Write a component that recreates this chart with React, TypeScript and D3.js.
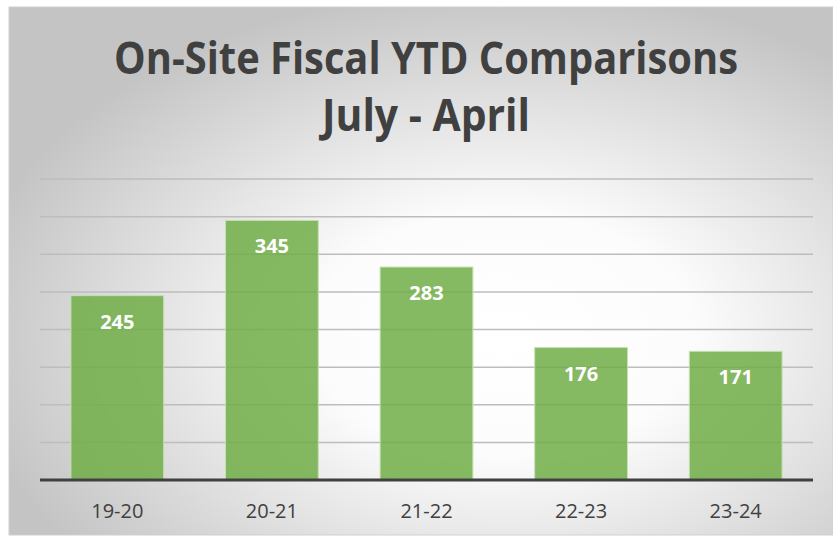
import React from "react";
import * as d3 from "d3";

const categories = ["19-20", "20-21", "21-22", "22-23", "23-24"];
const values = [245, 345, 283, 176, 171];
const yTicks = [0, 50, 100, 150, 200, 250, 300, 350, 400];
const titleLines = ["On-Site Fiscal YTD Comparisons", "July - April"];

const W = 833;
const H = 537;

export default function App() {
  const x = d3.scaleBand<string>().domain(categories).range([40, 813]).paddingInner(0.4).paddingOuter(0.2);
  const y = d3.scaleLinear().domain([0, 400]).range([480, 179]);

  return (
    <svg width={W} height={H} style={{ position: "absolute", left: 0, top: 0 }}>
      <defs>
        <radialGradient id="bg" cx="0.6" cy="0.62" r="0.66" fx="0.6" fy="0.62">
          <stop offset="0%" stopColor="#ffffff" />
          <stop offset="35%" stopColor="#fcfcfc" />
          <stop offset="100%" stopColor="#c4c4c4" />
        </radialGradient>
      </defs>
      <rect x={0} y={0} width={W} height={H} fill="#ffffff" />
      <rect x={9} y={7} width={W - 9} height={H - 9} fill="url(#bg)" stroke="#d0d0d0" strokeWidth={1} />
      {yTicks.slice(1).map((t) => (
        <line key={t} x1={40} x2={813} y1={y(t)} y2={y(t)} stroke="#bdbdbd" strokeWidth={1.5} />
      ))}
      {categories.map((c, i) => (
        <g key={c}>
          <rect
            x={x(c)}
            y={y(values[i])}
            width={x.bandwidth()}
            height={y(0) - y(values[i])}
            fill="#70ad47"
            fillOpacity={0.85}
            stroke="#c5e0b4"
            strokeWidth={1}
          />
          <text
            x={(x(c) as number) + x.bandwidth() / 2}
            y={y(values[i]) + 33}
            textAnchor="middle"
            fontFamily="'Open Sans', sans-serif"
            fontWeight={700}
            fontSize={20}
            fill="#ffffff"
          >
            {values[i]}
          </text>
          <text
            x={(x(c) as number) + x.bandwidth() / 2}
            y={518}
            textAnchor="middle"
            fontFamily="'Open Sans', sans-serif"
            fontSize={20}
            fill="#404040"
          >
            {c}
          </text>
        </g>
      ))}
      <line x1={40} x2={813} y1={y(0)} y2={y(0)} stroke="#404040" strokeWidth={3} />
      <text
        x={426}
        y={74}
        textAnchor="middle"
        fontFamily="'Open Sans', sans-serif"
        fontWeight={700}
        fontSize={44}
        fill="#404040"
        textLength={624}
        lengthAdjust="spacingAndGlyphs"
      >
        {titleLines[0]}
      </text>
      <text
        x={426}
        y={131}
        textAnchor="middle"
        fontFamily="'Open Sans', sans-serif"
        fontWeight={700}
        fontSize={44}
        fill="#404040"
        textLength={208}
        lengthAdjust="spacingAndGlyphs"
      >
        {titleLines[1]}
      </text>
    </svg>
  );
}
